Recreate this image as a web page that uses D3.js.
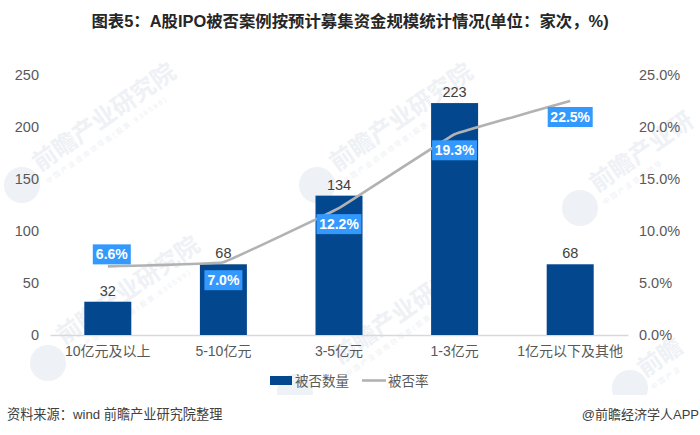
<!DOCTYPE html>
<html>
<head>
<meta charset="utf-8">
<script src="https://cdn.jsdelivr.net/npm/d3@7"></script>
<style>
  body { margin: 0; background: #fff; }
  text { font-family: "Liberation Sans", "Noto Sans CJK SC", sans-serif; }
</style>
</head>
<body>
<div id="chart"></div>
<script>
var categories = ["10亿元及以上", "5-10亿元", "3-5亿元", "1-3亿元", "1亿元以下及其他"];
var counts = [32, 68, 134, 223, 68];
var rates = [6.6, 7.0, 12.2, 19.3, 22.5];
var leftTicks = [0, 50, 100, 150, 200, 250];
var rightTicks = [0, 5, 10, 15, 20, 25];

var width = 700,
  height = 435,
  barColor = "#03478e",
  lineColor = "#b2b2b2",
  labelBlue = "#3399ff",
  textColor = "#595959",
  axisLeftX = 50,
  axisRightX = 628,
  baseY = 335,
  topY = 75;

// where the rate boxes sit, relative to each line point
var rateBoxDx = [4, 0, 0, 0, 0];
var rateBoxDy = [-12, 18, 16, 16, 16];

var svg = d3.select("#chart").append("svg").attr("width", width).attr("height", height);

var x = d3.scaleBand().domain(categories).range([axisLeftX, axisRightX]);
var yCount = d3.scaleLinear().domain([0, 250]).range([baseY, topY]);
var yRate = d3.scaleLinear().domain([0, 25]).range([baseY, topY]);

// watermark: logo x, logo y, text x, text y, text
var marks = [
  [22, 185, 40, 172, "前瞻产业研究院", "中国产业咨询领导者(股票:839599)"],
  [317, 185, 337, 172, "前瞻产业研究院", "中国产业咨询领导者(股票:839599)"],
  [580, 208, 597, 193, "前瞻产业研", "中国产业咨询领导"],
  [48, 363, 64, 345, "前瞻产业研究院", "中国产业咨询领导者(股票:839599)"],
  [295, 392, 340, 365, "前瞻产业研究院", "中国产业咨询领导者(股票:839599)"],
  [630, 388, 645, 378, "前瞻", "中国产业"]
];
var wm = svg.selectAll("g.wm").data(marks).enter().append("g")
  .attr("class", "wm")
  .attr("fill", "#eef1f5");
wm.append("circle")
  .attr("cx", function (d) { return d[0]; })
  .attr("cy", function (d) { return d[1]; })
  .attr("r", 18);
wm.append("text")
  .attr("transform", function (d) { return "translate(" + d[2] + "," + d[3] + ") rotate(-35)"; })
  .attr("font-size", 24)
  .attr("font-weight", "bold")
  .text(function (d) { return d[4]; });
wm.append("text")
  .attr("transform", function (d) { return "translate(" + (d[2] + 8) + "," + (d[3] + 12) + ") rotate(-35)"; })
  .attr("font-size", 7)
  .attr("letter-spacing", 2)
  .text(function (d) { return d[5]; });
// footer band hides the watermark
svg.append("rect").attr("x", 0).attr("y", 395).attr("width", width).attr("height", height - 395).attr("fill", "#fff");

// axes
var axisL = svg.append("g").attr("transform", "translate(" + axisLeftX + ",0)")
  .call(d3.axisLeft(yCount).tickValues(leftTicks).tickSize(0).tickPadding(11));
var axisR = svg.append("g").attr("transform", "translate(" + axisRightX + ",0)")
  .call(d3.axisRight(yRate).tickValues(rightTicks).tickSize(0).tickPadding(11)
    .tickFormat(function (d) { return d.toFixed(1) + "%"; }));
var axisB = svg.append("g").attr("transform", "translate(0," + baseY + ")")
  .call(d3.axisBottom(x).tickSize(0).tickPadding(11));
axisL.select(".domain").remove();
axisR.select(".domain").remove();
axisB.select(".domain").attr("stroke", "#d9d9d9").attr("stroke-width", 1.3);
svg.selectAll(".tick text")
  .attr("fill", textColor)
  .style("font-family", '"Liberation Sans", "Noto Sans CJK SC", sans-serif');
axisL.selectAll("text").style("font-size", "14.5px");
axisR.selectAll("text").style("font-size", "14.5px");
axisB.selectAll("text").style("font-size", "14px");

// bars
var barWidth = 47;
svg.selectAll("rect.bar").data(counts).enter().append("rect")
  .attr("class", "bar")
  .attr("x", function (d, i) { return x(categories[i]) + x.bandwidth() / 2 - barWidth / 2; })
  .attr("y", function (d) { return yCount(d); })
  .attr("width", barWidth)
  .attr("height", function (d) { return baseY - yCount(d); })
  .attr("fill", barColor);

svg.selectAll("text.count").data(counts).enter().append("text")
  .attr("class", "count")
  .attr("x", function (d, i) { return x(categories[i]) + x.bandwidth() / 2; })
  .attr("y", function (d) { return yCount(d) - 6; })
  .attr("text-anchor", "middle")
  .attr("font-size", 14.5)
  .attr("fill", "#404040")
  .text(function (d) { return d; });

// rate line
var line = d3.line()
  .x(function (d, i) { return x(categories[i]) + x.bandwidth() / 2; })
  .y(function (d) { return yRate(d); })
  .curve(d3.curveCardinal.tension(0.85));
svg.append("path").datum(rates)
  .attr("d", line)
  .attr("fill", "none")
  .attr("stroke", lineColor)
  .attr("stroke-width", 2.6);

// rate labels
var boxW = function (d) { return d >= 10 ? 45 : 38; };
var box = svg.selectAll("g.rate").data(rates).enter().append("g")
  .attr("class", "rate")
  .attr("transform", function (d, i) {
    return "translate(" + (x(categories[i]) + x.bandwidth() / 2 + rateBoxDx[i]) + "," + (yRate(d) + rateBoxDy[i]) + ")";
  });
box.append("rect")
  .attr("x", function (d) { return -boxW(d) / 2; })
  .attr("y", -10)
  .attr("width", boxW)
  .attr("height", 20)
  .attr("fill", labelBlue);
box.append("text")
  .attr("text-anchor", "middle")
  .attr("y", 5)
  .attr("font-size", 14)
  .attr("font-weight", "bold")
  .attr("fill", "#fff")
  .text(function (d) { return d.toFixed(1) + "%"; });

// legend
svg.append("rect").attr("x", 270).attr("y", 376).attr("width", 22).attr("height", 9).attr("fill", barColor);
svg.append("text").attr("x", 295).attr("y", 386).attr("font-size", 13.5).attr("fill", textColor).text("被否数量");
svg.append("line").attr("x1", 362).attr("x2", 386).attr("y1", 380.5).attr("y2", 380.5)
  .attr("stroke", lineColor).attr("stroke-width", 2.6);
svg.append("text").attr("x", 388).attr("y", 386).attr("font-size", 13.5).attr("fill", textColor).text("被否率");

// title and footer
svg.append("text").attr("x", 350).attr("y", 27).attr("text-anchor", "middle")
  .attr("font-size", 16.4).attr("font-weight", "bold").attr("fill", "#262626")
  .text("图表5：A股IPO被否案例按预计募集资金规模统计情况(单位：家次，%)");
svg.append("text").attr("x", 7).attr("y", 419).attr("font-size", 13.2).attr("fill", "#404040")
  .text("资料来源：wind 前瞻产业研究院整理");
svg.append("text").attr("x", 699).attr("y", 419).attr("text-anchor", "end").attr("font-size", 13).attr("fill", "#404040")
  .text("@前瞻经济学人APP");
</script>
</body>
</html>
